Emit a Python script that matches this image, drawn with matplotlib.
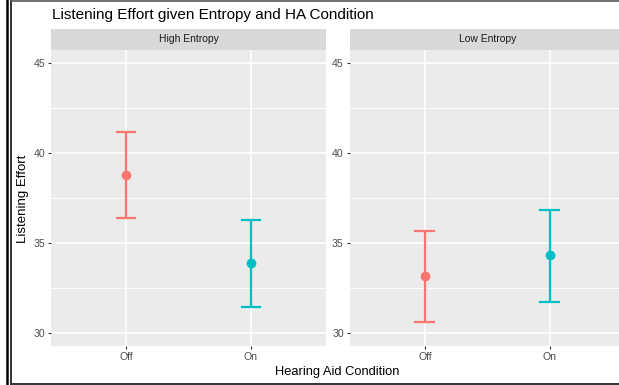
import numpy as np
import matplotlib
matplotlib.use("Agg")
import matplotlib.pyplot as plt
from matplotlib.lines import Line2D

plt.rcParams['font.family'] = ['Liberation Sans', 'DejaVu Sans']

# data
facets = ['High Entropy', 'Low Entropy']
conditions = ['Off', 'On']
means = {'High Entropy': [38.79, 33.87], 'Low Entropy': [33.14, 34.30]}
upper = {'High Entropy': [41.17, 36.25], 'Low Entropy': [35.67, 36.81]}
lower = {'High Entropy': [36.37, 31.43], 'Low Entropy': [30.58, 31.69]}
colors = ['#F8766D', '#00BFC4']
yticks = [30, 35, 40, 45]

W, H = 619, 385
fig = plt.figure(figsize=(W / 100, H / 100), dpi=100)


def fx(px):
    return px / W


def fy(py):
    return 1 - py / H


panel_w = 274.4
panel_top, panel_bot = 50, 346
strip_top = 29
lefts = [51.3, 350.0]

for left, facet in zip(lefts, facets):
    ax = fig.add_axes([fx(left), fy(panel_bot), fx(panel_w), (panel_bot - panel_top) / H])
    ax.set_facecolor('#EBEBEB')
    for s in ax.spines.values():
        s.set_visible(False)
    ax.set_xlim(0.4, 2.6)
    ax.set_ylim(29.25, 45.75)
    for y in [32.5, 37.5, 42.5]:
        ax.axhline(y, color='white', lw=0.6, zorder=0)
    for y in yticks:
        ax.axhline(y, color='white', lw=1.2, zorder=0)
    for x in [1, 2]:
        ax.axvline(x, color='white', lw=1.2, zorder=0)
    xs = np.arange(1, len(conditions) + 1)
    for i, x in enumerate(xs):
        c = colors[i]
        lo, hi, m = lower[facet][i], upper[facet][i], means[facet][i]
        ax.plot([x, x], [lo, hi], color=c, lw=1.6, zorder=2, solid_capstyle='butt')
        ax.plot([x - 0.075, x + 0.075], [hi, hi], color=c, lw=1.6, zorder=2)
        ax.plot([x - 0.075, x + 0.075], [lo, lo], color=c, lw=1.6, zorder=2)
        ax.plot([x], [m], 'o', color=c, ms=6, mec=c, zorder=3)
    ax.set_xticks(xs)
    ax.set_xticklabels(conditions)
    ax.set_yticks(yticks)
    ax.tick_params(axis='both', length=2.5, width=0.8, color='#333333',
                   labelcolor='#4D4D4D', labelsize=7.6, pad=2)

    sax = fig.add_axes([fx(left), fy(panel_top), fx(panel_w), (panel_top - strip_top) / H])
    sax.set_facecolor('#D9D9D9')
    sax.set_xticks([])
    sax.set_yticks([])
    for s in sax.spines.values():
        s.set_visible(False)
    sax.text(0.5, 0.5, facet, ha='center', va='center', fontsize=7.5,
             color='#1A1A1A', transform=sax.transAxes)

fig.text(fx(51.5), fy(15), 'Listening Effort given Entropy and HA Condition',
         ha='left', va='center', fontsize=11, color='black')
fig.text(fx(23), fy(198.5), 'Listening Effort', rotation=90, ha='center',
         va='center', fontsize=9.5, color='black')
fig.text(fx(337.5), fy(371.5), 'Hearing Aid Condition', ha='center', va='center',
         fontsize=9.3, color='black')

# screenshot frame lines
fig.add_artist(Line2D([fx(7), fx(7)], [0, 1], color='black', lw=1.8))
fig.add_artist(Line2D([fx(11), fx(11)], [0, 1], color='#333333', lw=1.4))
fig.add_artist(Line2D([fx(11), 1], [fy(0.7), fy(0.7)], color='#555555', lw=1.2))
fig.add_artist(Line2D([fx(11), 1], [fy(383.5), fy(383.5)], color='#333333', lw=1.4))

fig.savefig('out.png', dpi=100)
